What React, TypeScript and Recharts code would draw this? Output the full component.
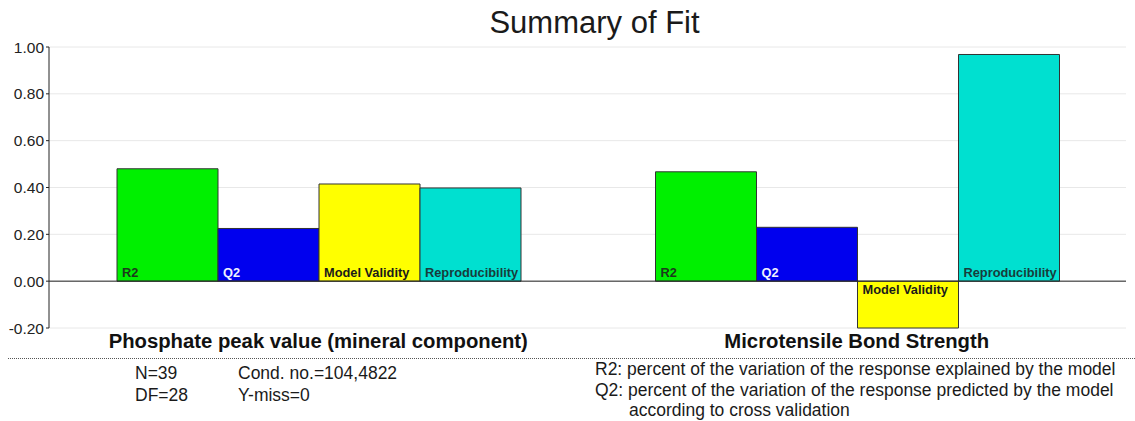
import React from 'react';
import {
  BarChart, Bar, XAxis, YAxis, CartesianGrid, ReferenceLine, LabelList
} from 'recharts';

const responses = [
  'Phosphate peak value (mineral component)',
  'Microtensile Bond Strength',
];
const r2 = [0.48, 0.467];
const q2 = [0.225, 0.23];
const modelValidity = [0.415, -0.2];
const reproducibility = [0.398, 0.968];
const yTicks = [-0.2, 0, 0.2, 0.4, 0.6, 0.8, 1.0];

const data = responses.map((name, i) => ({
  response: name,
  r2: r2[i],
  q2: q2[i],
  mv: modelValidity[i],
  rep: reproducibility[i],
}));

const series = [
  { key: 'r2', label: 'R2', fill: '#00f000', text: '#1c3a1c' },
  { key: 'q2', label: 'Q2', fill: '#0000ee', text: '#f0f0ff' },
  { key: 'mv', label: 'Model Validity', fill: '#ffff00', text: '#1a1a1a' },
  { key: 'rep', label: 'Reproducibility', fill: '#00e0d0', text: '#183c3c' },
];

const font = '"Liberation Sans", Arial, sans-serif';

const barLabel = (label: string, color: string) => (props: any) => {
  const { x, y, height, value } = props;
  const top = Math.min(y, y + height);
  const bottom = Math.max(y, y + height);
  const ty = value >= 0 ? bottom - 4 : top + 13;
  return (
    <text x={x + 5} y={ty} fill={color} fontSize={12.8} fontWeight="bold" fontFamily={font}>
      {label}
    </text>
  );
};

const App = () => {
  const bars = series.map((s) => (
    <Bar key={s.key} dataKey={s.key} fill={s.fill} stroke="#333" strokeWidth={1} isAnimationActive={false}>
      <LabelList dataKey={s.key} content={barLabel(s.label, s.text)} />
    </Bar>
  ));

  return <div style={{ position: 'absolute', left: 0, top: 0, width: 1135, height: 421, background: '#fff', fontFamily: font, color: '#1a1a1a' }}>
    <div style={{ position: 'absolute', left: 0, width: 1135, top: 5, textAlign: 'center', fontSize: 31, paddingLeft: 54, boxSizing: 'border-box' }}>
      Summary of Fit
    </div>
    <div style={{ position: 'absolute', left: 0, top: 0 }}>
      <BarChart
        width={1135}
        height={360}
        data={data}
        margin={{ top: 47, right: 9, left: 0, bottom: 0 }}
        barGap={0}
        barCategoryGap={68}
      >
        <CartesianGrid vertical={false} stroke="#e8e8e8" />
        <XAxis
          dataKey="response"
          axisLine={false}
          tickLine={false}
          height={32}
          interval={0}
          tickMargin={0}
          tick={{ fontSize: 20.3, fontWeight: 'bold', fill: '#111', fontFamily: font }}
        />
        <YAxis
          width={49}
          domain={[-0.2, 1.0]}
          ticks={yTicks}
          tickFormatter={(v: number) => v.toFixed(2)}
          axisLine={{ stroke: '#222' }}
          tickLine={{ stroke: '#222' }}
          tickSize={3}
          tick={{ fontSize: 15.5, fill: '#222', fontFamily: font }}
        />
        <ReferenceLine y={0} stroke="#222" />
        {bars}
      </BarChart>
    </div>
    <div style={{ position: 'absolute', left: 8, right: 0, top: 358, borderTop: '1px dotted #555' }} />
    <div style={{ position: 'absolute', left: 135, top: 362, fontSize: 17.5, lineHeight: '22px' }}>
      N=39<br />DF=28
    </div>
    <div style={{ position: 'absolute', left: 238, top: 362, fontSize: 17.5, lineHeight: '22px' }}>
      Cond. no.=104,4822<br />Y-miss=0
    </div>
    <div style={{ position: 'absolute', left: 595, top: 359, fontSize: 17.5, lineHeight: '20.5px' }}>
      R2: percent of the variation of the response explained by the model<br />
      Q2: percent of the variation of the response predicted by the model<br />
      <span style={{ paddingLeft: 34 }}>according to cross validation</span>
    </div>
  </div>;
};

export default App;
